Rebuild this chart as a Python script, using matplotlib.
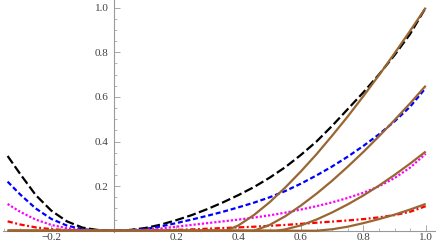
import matplotlib
matplotlib.use('Agg')
import matplotlib.pyplot as plt

# values
x_grid = [-0.34, -0.30, -0.25, -0.20, -0.15, -0.10, -0.05, 0.00, 0.05, 0.10,
          0.15, 0.20, 0.25, 0.30, 0.35, 0.40, 0.45, 0.50, 0.55, 0.60,
          0.65, 0.70, 0.75, 0.80, 0.85, 0.90, 0.95, 1.00]

black = [0.335, 0.255, 0.160, 0.090, 0.042, 0.014, 0.003, 0.0, 0.003, 0.012,
         0.027, 0.047, 0.070, 0.097, 0.127, 0.160, 0.196, 0.238, 0.285, 0.340,
         0.400, 0.470, 0.545, 0.620, 0.700, 0.787, 0.882, 1.000]
blue = [0.220, 0.163, 0.100, 0.053, 0.023, 0.007, 0.001, 0.0, 0.002, 0.008,
        0.019, 0.034, 0.050, 0.067, 0.085, 0.105, 0.126, 0.150, 0.178, 0.211,
        0.248, 0.288, 0.332, 0.380, 0.432, 0.490, 0.556, 0.640]
magenta = [0.120, 0.085, 0.050, 0.026, 0.011, 0.003, 0.001, 0.0, 0.001, 0.004,
           0.010, 0.018, 0.026, 0.034, 0.042, 0.050, 0.059, 0.069, 0.081, 0.095,
           0.110, 0.127, 0.147, 0.170, 0.199, 0.236, 0.283, 0.345]
red = [0.042, 0.028, 0.015, 0.007, 0.003, 0.001, 0.0, 0.0, 0.0, 0.001,
       0.002, 0.004, 0.006, 0.009, 0.012, 0.015, 0.018, 0.022, 0.026, 0.031,
       0.036, 0.041, 0.046, 0.052, 0.060, 0.070, 0.085, 0.110]

brown1_x = [-0.34, 0.36, 0.40, 0.45, 0.50, 0.55, 0.60, 0.65, 0.70, 0.75, 0.80, 0.85, 0.90, 0.95, 1.00]
brown1 = [0.0, 0.0, 0.024, 0.071, 0.128, 0.194, 0.266, 0.343, 0.426, 0.512, 0.603, 0.697, 0.795, 0.896, 1.000]
brown2_x = [-0.34, 0.45, 0.50, 0.55, 0.60, 0.65, 0.70, 0.75, 0.80, 0.85, 0.90, 0.95, 1.00]
brown2 = [0.0, 0.0, 0.026, 0.065, 0.113, 0.166, 0.224, 0.287, 0.353, 0.423, 0.496, 0.571, 0.650]
brown3_x = [-0.34, 0.52, 0.55, 0.60, 0.65, 0.70, 0.75, 0.80, 0.85, 0.90, 0.95, 1.00]
brown3 = [0.0, 0.0, 0.006, 0.024, 0.050, 0.082, 0.118, 0.158, 0.202, 0.250, 0.301, 0.355]
brown4_x = [-0.34, 0.65, 0.70, 0.75, 0.80, 0.85, 0.90, 0.95, 1.00]
brown4 = [0.0, 0.0, 0.0065, 0.018, 0.034, 0.052, 0.072, 0.095, 0.120]

x_ticks = [-0.2, 0.2, 0.4, 0.6, 0.8, 1.0]
x_tick_labels = ['\u22120.2', '0.2', '0.4', '0.6', '0.8', '1.0']
y_ticks = [0.2, 0.4, 0.6, 0.8, 1.0]
y_tick_labels = ['0.2', '0.4', '0.6', '0.8', '1.0']

plt.rcParams['font.family'] = ['Liberation Serif', 'DejaVu Serif']
plt.rcParams['lines.scale_dashes'] = False

fig = plt.figure(figsize=(4.36, 2.45), dpi=100)
ax = fig.add_axes([0, 0, 1, 1])

lw = 1.6
brown_c = (0.6, 0.4, 0.2)
ax.plot(x_grid, black, color='black', lw=lw, dashes=(6.5, 2.5))
ax.plot(x_grid, blue, color=(0, 0, 1), lw=lw, dashes=(3.6, 2.0))
ax.plot(x_grid, magenta, color=(1, 0, 1), lw=lw, dashes=(1.6, 1.4))
ax.plot(x_grid, red, color=(1, 0, 0), lw=lw, dashes=(3.8, 1.8, 1.4, 1.8))
for bx, by in [(brown1_x, brown1), (brown2_x, brown2), (brown3_x, brown3), (brown4_x, brown4)]:
    ax.plot(bx, by, color=brown_c, lw=lw, solid_capstyle='butt')

ax.set_xlim(-0.3644, 1.033)
ax.set_ylim(-0.064, 1.0345)
for s in ['top', 'right']:
    ax.spines[s].set_visible(False)
ax.spines['left'].set_position(('data', 0))
ax.spines['bottom'].set_position(('data', 0))
ax.spines['bottom'].set_bounds(-0.355, 1.03)
ax.spines['left'].set_bounds(-0.006, 1.0345)
for s in ['left', 'bottom']:
    ax.spines[s].set_color('#999999')
    ax.spines[s].set_linewidth(0.8)
    ax.spines[s].set_zorder(0.5)

ax.set_xticks(x_ticks, labels=x_tick_labels)
ax.set_yticks(y_ticks, labels=y_tick_labels)
x_minor = [v / 100 for v in range(-35, 101, 5) if v % 20 != 0]
y_minor = [v / 100 for v in range(5, 101, 5) if v % 20 != 0]
ax.set_xticks(x_minor, minor=True)
ax.set_yticks(y_minor, minor=True)
ax.tick_params(which='major', direction='in', length=4, width=0.6, color='#999999',
               labelsize=8, labelcolor='#404040')
ax.tick_params(axis='x', which='major', pad=1.5)
ax.tick_params(axis='y', which='major', pad=3.5)
ax.tick_params(which='minor', direction='in', length=2.3, width=0.5, color='#999999')

fig.savefig('out.png', dpi=100)
